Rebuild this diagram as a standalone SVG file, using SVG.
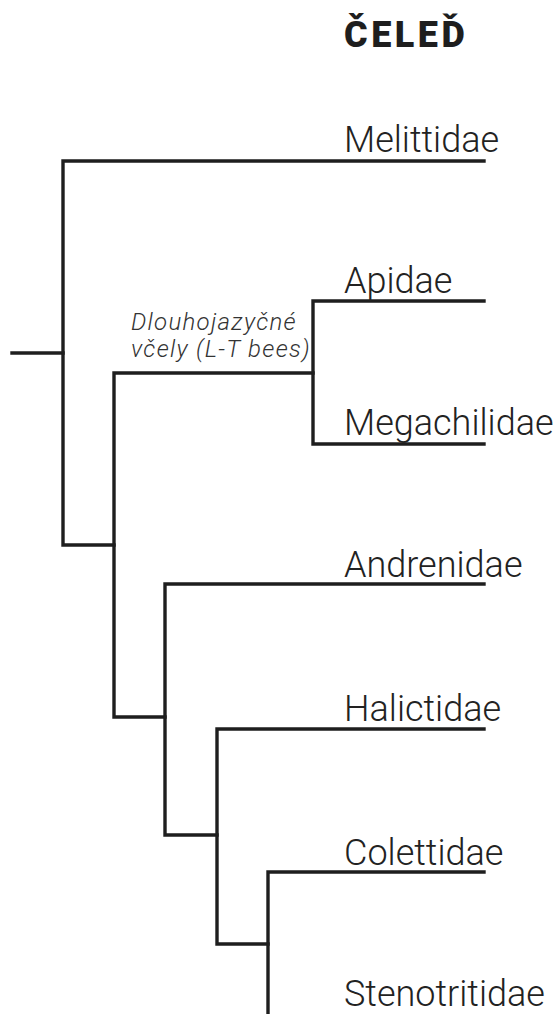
<svg xmlns="http://www.w3.org/2000/svg" width="560" height="1014" viewBox="0 0 560 1014">
<style>
.ln{fill:none;stroke:#1e1e1e;stroke-width:3.4;stroke-linecap:square;stroke-linejoin:miter}
.lab{font-family:Roboto,"Liberation Sans",sans-serif;font-weight:300;font-size:36px;fill:#222}
.it{font-family:Roboto,"Liberation Sans",sans-serif;font-weight:300;font-style:italic;font-size:24px;fill:#333;letter-spacing:1.3px}
.title{font-family:Roboto,"Liberation Sans",sans-serif;font-weight:900;font-size:36px;fill:#1e1e1e;letter-spacing:3.5px}
</style>
<rect width="560" height="1014" fill="#fff"/>
<g id="title"><text class="title" x="344" y="47">ČELEĎ</text></g>
<g id="connectors">
<path class="ln" d="M12 353H63"/>
<path class="ln" d="M484 161H63V545H114"/>
<path class="ln" d="M313 373H114V717H165"/>
<path class="ln" d="M484 301H313V444H484"/>
<path class="ln" d="M484 584H165V835H217"/>
<path class="ln" d="M484 729H217V944H268"/>
<path class="ln" d="M484 872H268V1016"/>
</g>
<g id="clade-lt"><text class="it" x="131" y="330">Dlouhojazyčné</text><text class="it" x="131" y="357">včely (L-T bees)</text></g>
<g id="melittidae"><text class="lab" x="344" y="152">Melittidae</text></g>
<g id="apidae"><text class="lab" x="344" y="293">Apidae</text></g>
<g id="megachilidae"><text class="lab" x="344" y="435">Megachilidae</text></g>
<g id="andrenidae"><text class="lab" x="344" y="577">Andrenidae</text></g>
<g id="halictidae"><text class="lab" x="344" y="721">Halictidae</text></g>
<g id="colettidae"><text class="lab" x="344" y="865">Colettidae</text></g>
<g id="stenotritidae"><text class="lab" x="344" y="1006">Stenotritidae</text></g>
</svg>
